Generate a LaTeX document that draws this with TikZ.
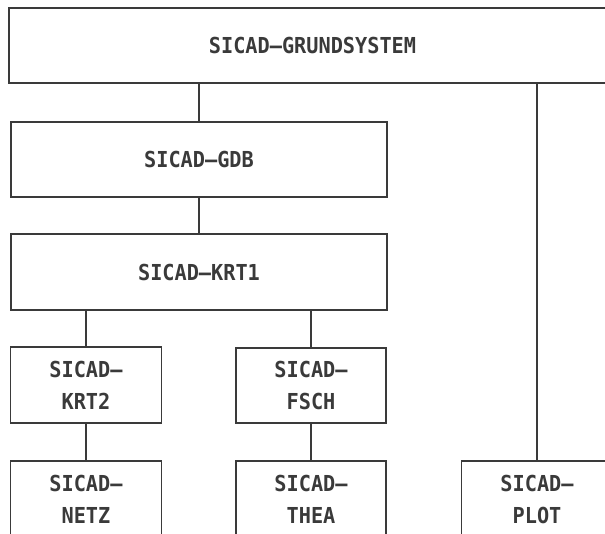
\documentclass[tikz,border=0pt]{standalone}
\usepackage{fontspec}
\usepackage{xcolor}
\newfontfamily\plotfont[FakeStretch=0.92]{DejaVu Sans Mono}
\definecolor{ink}{HTML}{3A3A3A}
\tikzset{
  modul/.style={draw=ink, text=ink, line width=1.5bp, rectangle, inner sep=0pt,
    align=center, font=\plotfont\bfseries\fontsize{22bp}{32bp}\selectfont},
  klein/.style={modul, minimum width=151bp, minimum height=76bp},
  verb/.style={draw=ink, line width=1.5bp}
}

\begin{document}
\begin{tikzpicture}[x=1bp, y=-1bp]
\useasboundingbox (0,0) rectangle (605,534);
\clip (0,0) rectangle (605,534);
\node (grund) at (312.5,45.5) [modul, minimum width=607bp, minimum height=75bp] {SICAD–GRUNDSYSTEM};
\node (gdb) at (199,159.5) [modul, minimum width=376bp, minimum height=75bp] {SICAD–GDB};
\node (krt1) at (199,272) [modul, minimum width=376bp, minimum height=76bp] {SICAD–KRT1};
\node (krt2) at (86,385) [klein] {SICAD–\\KRT2};
\node (fsch) at (311,385.5) [klein, minimum width=150bp, minimum height=75bp] {SICAD–\\FSCH};
\node (netz) at (86,499) [klein] {SICAD–\\NETZ};
\node (thea) at (311,499) [klein, minimum width=150bp] {SICAD–\\THEA};
\node (plot) at (537,499) [klein] {SICAD–\\PLOT};

\draw [verb] (gdb.north) -- (gdb.north |- grund.south);
\draw [verb] (plot.north) -- (plot.north |- grund.south);
\draw [verb] (krt1.north) -- (gdb.south);
\draw [verb] (krt2.north) -- (krt2.north |- krt1.south);
\draw [verb] (fsch.north) -- (fsch.north |- krt1.south);
\draw [verb] (netz.north) -- (krt2.south);
\draw [verb] (thea.north) -- (fsch.south);
\end{tikzpicture}
\end{document}
